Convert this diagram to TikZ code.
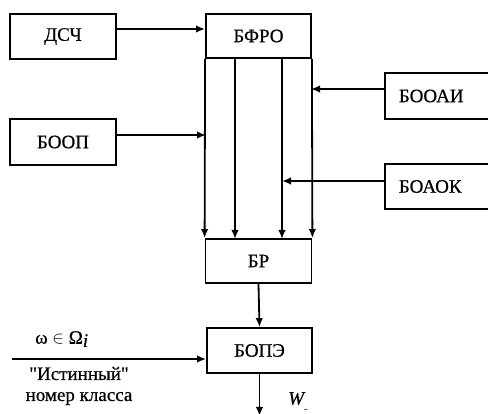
\documentclass[tikz,border=0pt]{standalone}
\usepackage{fontspec}
\setmainfont{Liberation Serif}[FakeBold=0.6]
\usetikzlibrary{arrows.meta}
\begin{document}
\begin{tikzpicture}[x=1pt,y=-1pt,
  blk/.style={draw,line width=1.8pt,inner sep=0pt,font=\fontsize{19}{20}\selectfont},
  con/.style={line width=1.8pt,-{Latex[length=9pt,width=7.5pt]}},
  lbl/.style={font=\fontsize{19}{21}\selectfont,inner sep=0pt}]
\useasboundingbox (0,0) rectangle (488,414);
% boxes
\node[blk,minimum width=106pt,minimum height=45pt] (dsch) at (63,36.5) {ДСЧ};
\node[blk,minimum width=106pt,minimum height=46pt] (boop) at (63,142) {БООП};
\node[blk,minimum width=105pt,minimum height=44pt] (bfro) at (258.5,36) {БФРО};
\node[blk,minimum width=106pt,minimum height=44pt] (br) at (258.5,261) {БР};
\node[blk,minimum width=105pt,minimum height=45pt] (bope) at (259.5,350.5) {БОПЭ};
\node[blk,minimum width=112pt,minimum height=46pt,anchor=west,text width=112pt,align=left] (booai) at (384,96) {\hspace{14pt}БООАИ};
\node[blk,minimum width=112pt,minimum height=45pt,anchor=west,text width=112pt,align=left] (boaok) at (384,186.5) {\hspace{14pt}БОАОК};
% bus lines from BFRO to BR
\coordinate (t1) at (bfro.south west);
\coordinate (t2) at (235,58);
\coordinate (t3) at (282,58);
\coordinate (t4) at (bfro.south east);
\coordinate (b1) at (br.north west);
\coordinate (b2) at (235,239);
\coordinate (b3) at (282,239);
\coordinate (b4) at (br.north east);
\draw[con] (t1) -- (b1);
\draw[con] (t2) -- (b2);
\draw[con] (t3) -- (b3);
\draw[con] (t4) -- (b4);
% inputs
\draw[con] (dsch.east |- 0,29) -- (bfro.west |- 0,29);
\coordinate (p1) at (206,135);
\draw[con] (boop.east |- p1) -- (p1);
\coordinate (p2) at (311,89);
\draw[con] (booai.west |- p2) -- (p2);
\coordinate (p3) at (282,181);
\draw[con] (boaok.west |- p3) -- (p3);
% BR -> BOPE
\draw[con] (br.south) -- (bope.north);
% true class input
\coordinate (in0) at (12,359);
\draw[con] (in0) -- (bope.west |- in0);
\node[lbl,anchor=west] (om) at (35,339) {ω $\in$ Ω\raisebox{-0.35ex}{\itshape i}};
\node[lbl,align=center] (ist) at (79,386) {\textquotedbl Истинный\textquotedbl\\номер класса};
% output
\coordinate (out) at (bope.south |- 0,416);
\draw[con] (bope.south) -- (out);
\node[lbl,anchor=west] (w) at (288,401) {\itshape W\raisebox{-0.6ex}{\scriptsize\upshape ..}};
\end{tikzpicture}
\end{document}
